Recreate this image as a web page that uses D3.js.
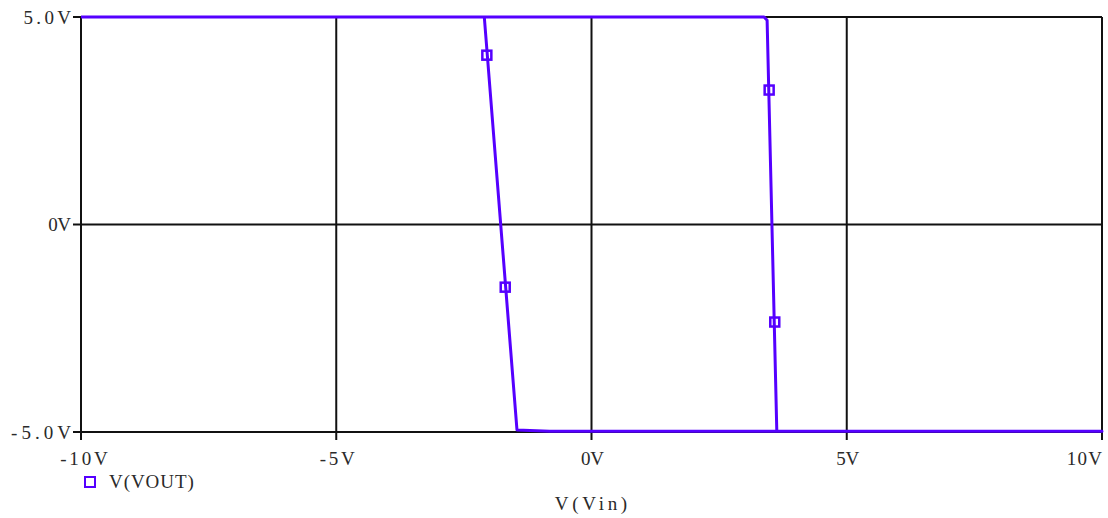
<!DOCTYPE html>
<html><head><meta charset="utf-8">
<script src="https://cdn.jsdelivr.net/npm/d3@7"></script>
<style>body{margin:0;background:#fff}svg{display:block}text{font-family:"Liberation Serif","DejaVu Serif",serif;fill:#2a2a2a}</style>
</head><body><svg id="c" width="1108" height="518"></svg>
<script>
const xTicks = [-10, -5, 0, 5, 10];
const xTickLabels = ["-10V", "-5V", "0V", "5V", "10V"];
const yTicks = [-5, 0, 5];
const yTickLabels = ["-5.0V", "0V", "5.0V"];
// forward sweep then reverse sweep: Vin, Vout
const vin  = [-10, 3.38, 3.44, 3.63, 10, 10, -0.82, -1.46, -2.1, -10];
const vout = [5, 5, 4.92, -4.98, -4.98, -4.98, -4.98, -4.95, 5, 5];
const markerVin  = [-2.05, -1.69, 3.48, 3.59];
const markerVout = [4.08, -1.51, 3.24, -2.35];
const seriesName = "V(VOUT)";
const xTitle = "V(Vin)";

const svg = d3.select("#c");
const L = 81, R = 1102, T = 17, B = 432;
const x = d3.scaleLinear().domain([-10, 10]).range([L, R]);
const y = d3.scaleLinear().domain([-5, 5]).range([B, T]);
const col = "#5500ff";
const fs = 19;
const cw = 12.4; // monospace cell width
const mono = sel => sel.attr("textLength", t => t.length * cw - 2).attr("lengthAdjust", "spacing");

// grid
svg.append("g").selectAll("line").data(xTicks).join("line")
  .attr("x1", d => x(d)).attr("x2", d => x(d)).attr("y1", T).attr("y2", B + 8)
  .attr("stroke", "#111").attr("stroke-width", 2);
svg.append("g").selectAll("line").data(yTicks).join("line")
  .attr("x1", L - 8).attr("x2", R).attr("y1", d => y(d)).attr("y2", d => y(d))
  .attr("stroke", "#111").attr("stroke-width", 2);

// tick labels
svg.append("g").selectAll("text").data(xTickLabels).join("text")
  .attr("x", (d, i) => i === xTicks.length - 1 ? R : x(xTicks[i]) + (i === 0 ? 3 : 1))
  .attr("y", B + 33)
  .attr("text-anchor", (d, i) => i === xTicks.length - 1 ? "end" : "middle")
  .attr("font-size", fs).text(d => d).call(mono);
svg.append("g").selectAll("text").data(yTickLabels).join("text")
  .attr("x", L - 10).attr("y", (d, i) => y(yTicks[i]) + 6.5).attr("text-anchor", "end")
  .attr("font-size", fs).text(d => d).call(mono);

// trace
const pts = vin.map((v, i) => [v, vout[i]]);
svg.append("path").datum(pts)
  .attr("d", d3.line().x(d => x(d[0])).y(d => y(d[1])))
  .attr("fill", "none").attr("stroke", col).attr("stroke-width", 3)
  .attr("stroke-linejoin", "round");

// markers
svg.append("g").selectAll("rect").data(markerVin).join("rect")
  .attr("x", d => x(d) - 4.5).attr("y", (d, i) => y(markerVout[i]) - 4.5)
  .attr("width", 9).attr("height", 9)
  .attr("fill", "none").attr("stroke", col).attr("stroke-width", 2.5);

// legend
svg.append("rect").attr("x", 85).attr("y", 477).attr("width", 10).attr("height", 10)
  .attr("fill", "none").attr("stroke", col).attr("stroke-width", 2);
svg.append("text").datum(seriesName).attr("x", 109).attr("y", 488).attr("font-size", fs).text(d => d).call(mono);
svg.append("text").datum(xTitle).attr("x", 591).attr("y", 510).attr("text-anchor", "middle")
  .attr("font-size", fs).text(d => d).call(mono);
</script></body></html>
